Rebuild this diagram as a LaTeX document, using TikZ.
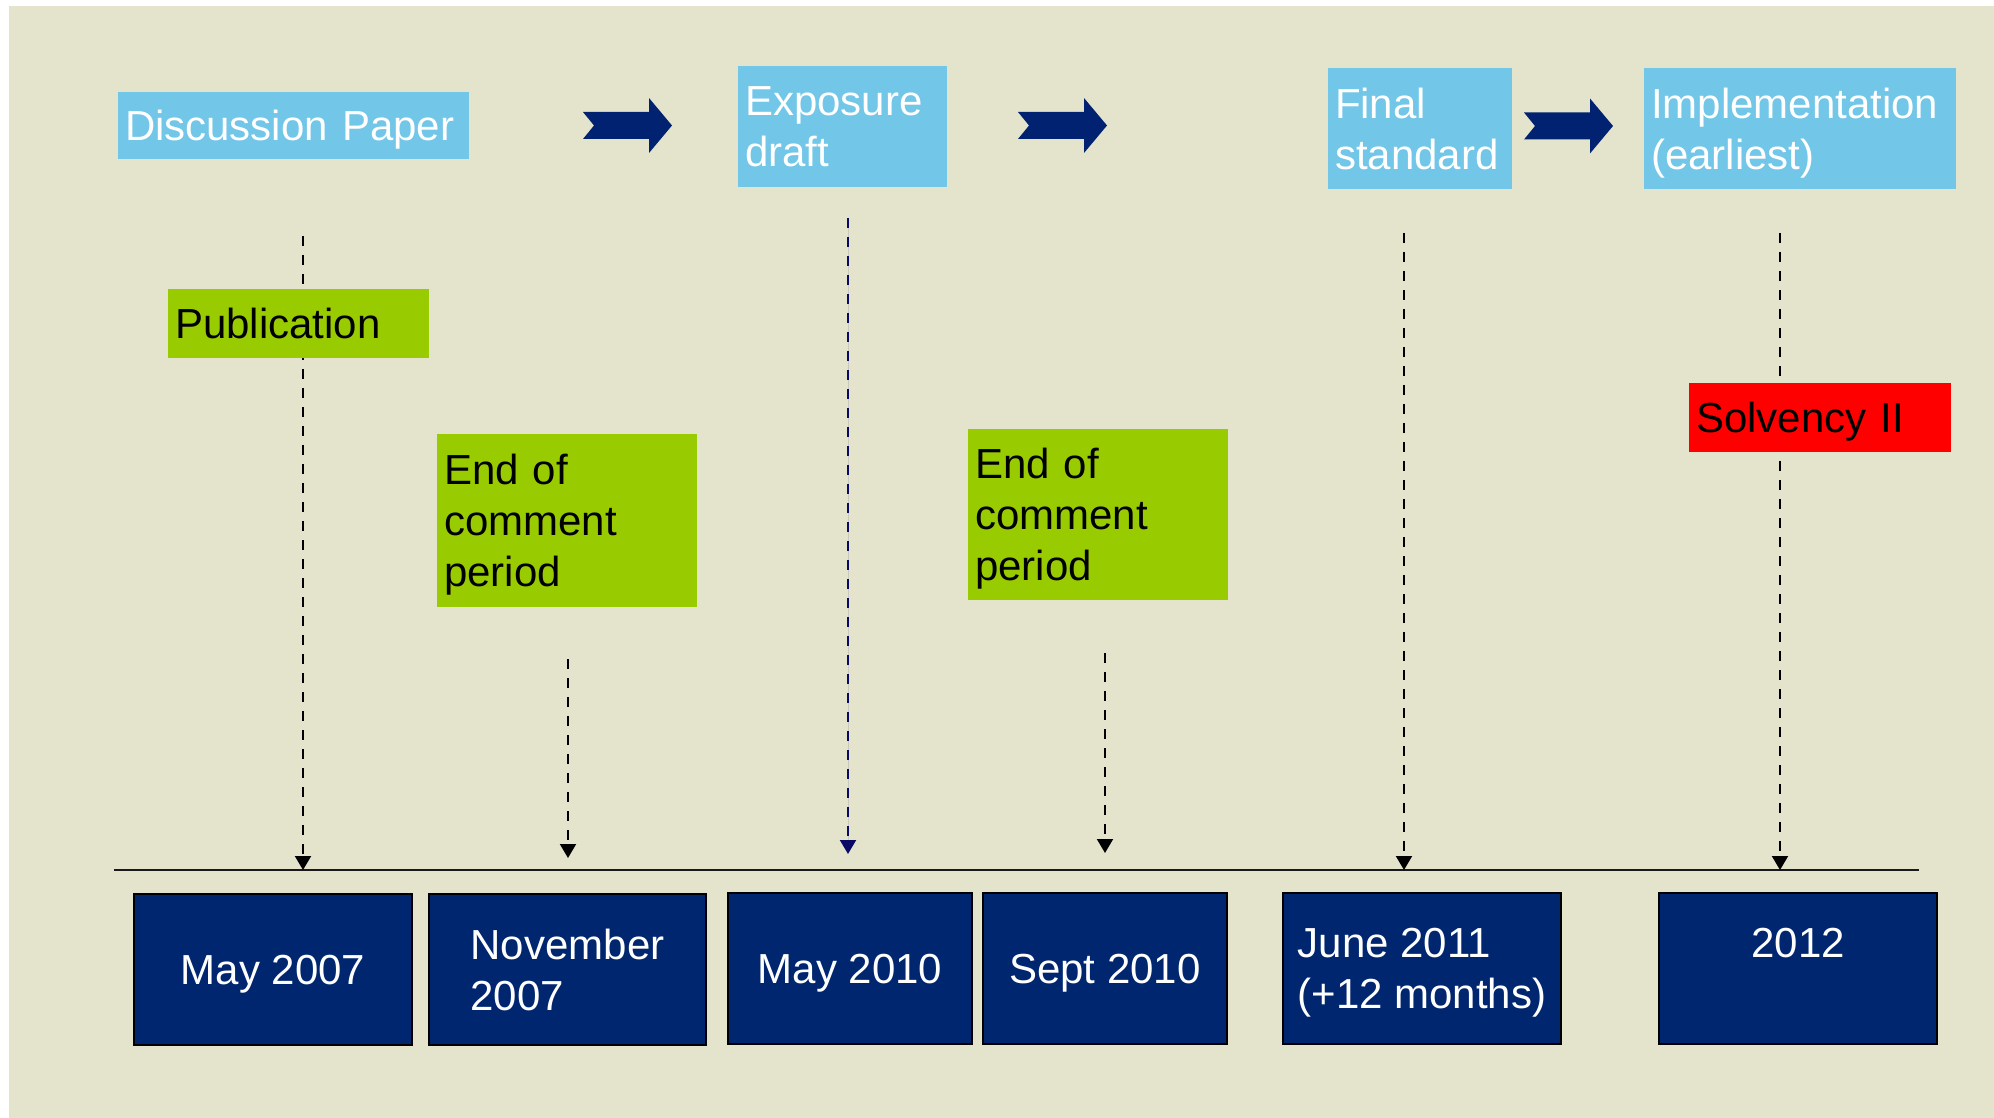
\documentclass[tikz,border=0pt]{standalone}
\usepackage{fontspec}
\setmainfont{Liberation Sans}
\usetikzlibrary{arrows.meta}
\definecolor{bgc}{HTML}{E4E4CC}
\definecolor{lblue}{HTML}{72C6E7}
\definecolor{lgreen}{HTML}{99CC00}
\definecolor{datenavy}{HTML}{00266F}
\definecolor{arrnavy}{HTML}{002270}
\definecolor{dashnavy}{HTML}{0A0A66}
\begin{document}
\begin{tikzpicture}[x=0.5pt,y=-0.5pt,
  every node/.style={font=\fontsize{21}{25.5}\selectfont, inner sep=0pt, outer sep=0pt},
  oneline/.style={text depth=0pt},
  topbox/.style={fill=lblue, text=white, anchor=north west, align=left, inner xsep=3.5pt},
  notebox/.style={fill=lgreen, text=black, anchor=north west, align=left, inner xsep=3.5pt},
  redbox/.style={fill=red, text=black, anchor=north west, align=left, inner xsep=3.5pt},
  datebox/.style={fill=datenavy, draw=black, line width=1pt, text=white, anchor=north west, align=left, minimum height=75.5pt},
  timeline/.style={draw=black!90, line width=0.9pt},
  dropline/.style={draw=black, line width=1pt, dash pattern=on 5pt off 4.5pt, -{Triangle[length=7pt,width=8pt]}},
  blockarrow/.pic={\fill[arrnavy] (0,-13.5) -- (11,0) -- (0,13.5) -- (66,13.5) -- (66,27.5) -- (89,0) -- (66,-27.5) -- (66,-13.5) -- cycle;}
]
\useasboundingbox (0,0) rectangle (1994,1118);
\fill[white] (0,0) rectangle (1994,1118);
\fill[bgc] (9,6) rectangle (1994,1118);

% timeline
\coordinate (tl) at (114,870);
\coordinate (tr) at (1919,870);
\draw[timeline] (tl) -- (tr);

% dashed drop lines
\coordinate (s1) at (303,236);  \coordinate (e1) at (303,870);
\coordinate (s2) at (568,659);  \coordinate (e2) at (568,858);
\coordinate (s3) at (848,218);  \coordinate (e3) at (848,854);
\coordinate (s4) at (1105,653); \coordinate (e4) at (1105,853);
\coordinate (s5) at (1404,233); \coordinate (e5) at (1404,870);
\coordinate (s6) at (1780,233); \coordinate (e6) at (1780,870);
\draw[dropline] (s1) -- (e1);
\draw[dropline] (s2) -- (e2);
\draw[dropline, draw=dashnavy, fill=dashnavy] (s3) -- (e3);
\draw[dropline] (s4) -- (e4);
\draw[dropline] (s5) -- (e5);
\draw[dropline] (s6) -- (e6);

% top stage boxes
\node[topbox, oneline, minimum height=33.5pt, text width=168.5pt] (dp) at (118,92) {Discussion Paper};
\node[topbox, minimum height=60.5pt, text width=97.5pt] (ed) at (738,66) {Exposure\\draft};
\node[topbox, minimum height=60.5pt, text width=85pt] (fs) at (1328,68) {Final\\standard};
\node[topbox, minimum height=60.5pt, text width=149pt] (im) at (1644,68) {Implementation\\\smash{(earliest)}};

% block arrows
\pic at (583,125.5) {blockarrow};
\pic at (1018,125.5) {blockarrow};
\pic at (1524,126) {blockarrow};

% notes
\node[notebox, oneline, minimum height=34.5pt, text width=123.5pt] (pub) at (168,289) {Publication};
\node[notebox, minimum height=86.5pt, text width=123pt] (eoc1) at (437,434) {End of\\comment\\\smash{period}};
\node[notebox, minimum height=85.5pt, text width=123pt] (eoc2) at (968,429) {End of\\comment\\\smash{period}};
\node[redbox, oneline, minimum height=34.5pt, text width=124pt] (sol) at (1689,383) {Solvency II};

% date boxes
\node[datebox, oneline, minimum width=139pt] (d1) at (134,894) {May 2007};
\node[datebox, minimum width=138.5pt] (d2) at (429,894) {November\\2007};
\node[datebox, oneline, minimum width=122pt] (d3) at (728,893) {May 2010};
\node[datebox, oneline, minimum width=122pt] (d4) at (983,893) {Sept 2010};
\node[datebox, minimum width=139pt] (d5) at (1283,893) {June 2011\\\smash{(+12 months)}};
\node[datebox, minimum width=139pt, align=center] (d6) at (1659,893) {2012\\\phantom{2012}};
\end{tikzpicture}
\end{document}
